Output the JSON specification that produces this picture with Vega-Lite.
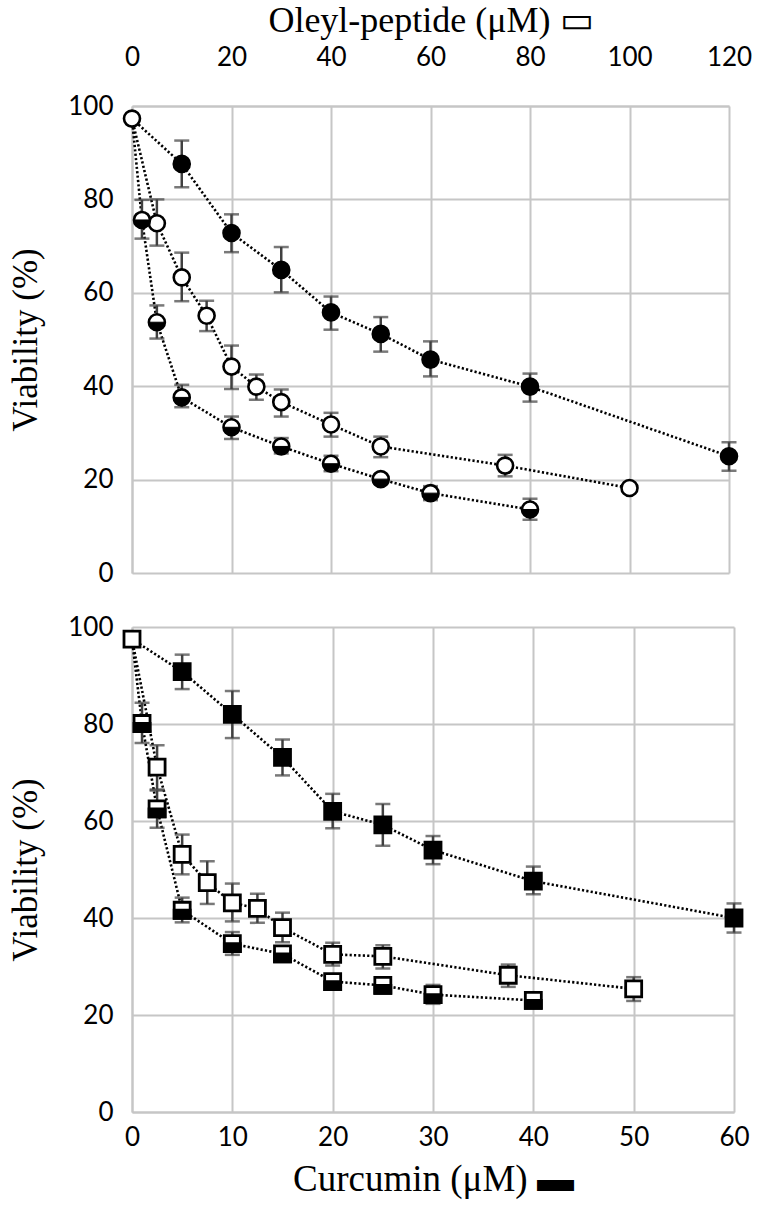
{
  "$schema": "https://vega.github.io/schema/vega-lite/v6.json",
  "padding": {"left": 8, "top": 2, "right": 10, "bottom": 5},
  "background": "white",
  "config": {
    "view": {"stroke": null},
    "axis": {
      "ticks": false,
      "grid": true,
      "labelFlush": false,
      "labelOverlap": false,
      "gridColor": "#c6c6c6",
      "gridWidth": 2,
      "domainColor": "#c6c6c6",
      "domainWidth": 2,
      "labelFont": "Lato",
      "labelFontSize": 26,
      "labelColor": "black",
      "titleFont": "Liberation Serif",
      "titleFontWeight": "normal",
      "titleColor": "black"
    }
  },
  "datasets": {
    "top": [
      {"series": "open", "conc": 0, "viab": 97.3, "lo": null, "hi": null},
      {"series": "open", "conc": 5, "viab": 74.9, "lo": 70.1, "hi": 80.0},
      {"series": "open", "conc": 10, "viab": 63.3, "lo": 58.2, "hi": 68.6},
      {"series": "open", "conc": 15, "viab": 55.1, "lo": 51.8, "hi": 58.3},
      {"series": "open", "conc": 20, "viab": 44.2, "lo": 39.4, "hi": 48.7},
      {"series": "open", "conc": 25, "viab": 39.9, "lo": 37.1, "hi": 42.5},
      {"series": "open", "conc": 30, "viab": 36.6, "lo": 33.5, "hi": 39.3},
      {"series": "open", "conc": 40, "viab": 31.8, "lo": 29.2, "hi": 34.3},
      {"series": "open", "conc": 50, "viab": 27.1, "lo": 24.8, "hi": 29.2},
      {"series": "open", "conc": 75, "viab": 23.0, "lo": 20.7, "hi": 25.3},
      {"series": "open", "conc": 100, "viab": 18.2, "lo": null, "hi": null},
      {"series": "filled", "conc": 0, "viab": 97.3, "lo": null, "hi": null},
      {"series": "filled", "conc": 10, "viab": 87.6, "lo": 82.6, "hi": 92.6},
      {"series": "filled", "conc": 20, "viab": 72.8, "lo": 68.7, "hi": 76.8},
      {"series": "filled", "conc": 30, "viab": 64.9, "lo": 60.1, "hi": 69.8},
      {"series": "filled", "conc": 40, "viab": 55.8, "lo": 52.1, "hi": 59.2},
      {"series": "filled", "conc": 50, "viab": 51.2, "lo": 47.4, "hi": 54.8},
      {"series": "filled", "conc": 60, "viab": 45.7, "lo": 42.1, "hi": 49.6},
      {"series": "filled", "conc": 80, "viab": 39.9, "lo": 36.7, "hi": 42.7},
      {"series": "filled", "conc": 120, "viab": 25.0, "lo": 21.9, "hi": 28.0},
      {"series": "half", "conc": 0, "viab": 97.3, "lo": null, "hi": null},
      {"series": "half", "conc": 2, "viab": 75.6, "lo": 71.6, "hi": 79.9},
      {"series": "half", "conc": 5, "viab": 53.7, "lo": 50.2, "hi": 57.3},
      {"series": "half", "conc": 10, "viab": 37.6, "lo": 35.5, "hi": 40.3},
      {"series": "half", "conc": 20, "viab": 31.2, "lo": 28.7, "hi": 33.5},
      {"series": "half", "conc": 30, "viab": 27.1, "lo": 25.6, "hi": 28.9},
      {"series": "half", "conc": 40, "viab": 23.4, "lo": 21.8, "hi": 25.1},
      {"series": "half", "conc": 50, "viab": 20.1, "lo": 19.1, "hi": 21.1},
      {"series": "half", "conc": 60, "viab": 17.1, "lo": 15.6, "hi": 18.6},
      {"series": "half", "conc": 80, "viab": 13.6, "lo": 11.4, "hi": 15.9}
    ],
    "bottom": [
      {"series": "filled", "conc": 0, "viab": 97.5, "lo": null, "hi": null},
      {"series": "filled", "conc": 5, "viab": 90.8, "lo": 87.2, "hi": 94.3},
      {"series": "filled", "conc": 10, "viab": 82.0, "lo": 77.1, "hi": 86.8},
      {"series": "filled", "conc": 15, "viab": 73.1, "lo": 69.4, "hi": 76.8},
      {"series": "filled", "conc": 20, "viab": 62.0, "lo": 58.5, "hi": 65.6},
      {"series": "filled", "conc": 25, "viab": 59.2, "lo": 54.9, "hi": 63.5},
      {"series": "filled", "conc": 30, "viab": 54.0, "lo": 51.1, "hi": 56.9},
      {"series": "filled", "conc": 40, "viab": 47.6, "lo": 44.9, "hi": 50.6},
      {"series": "filled", "conc": 60, "viab": 40.0, "lo": 37.0, "hi": 43.0},
      {"series": "open", "conc": 0, "viab": 97.5, "lo": null, "hi": null},
      {"series": "open", "conc": 2.5, "viab": 71.1, "lo": 66.5, "hi": 75.6},
      {"series": "open", "conc": 5, "viab": 53.1, "lo": 49.0, "hi": 57.2},
      {"series": "open", "conc": 7.5, "viab": 47.3, "lo": 42.9, "hi": 51.7},
      {"series": "open", "conc": 10, "viab": 43.1, "lo": 39.3, "hi": 47.1},
      {"series": "open", "conc": 12.5, "viab": 42.0, "lo": 39.0, "hi": 45.0},
      {"series": "open", "conc": 15, "viab": 38.0, "lo": 35.0, "hi": 41.1},
      {"series": "open", "conc": 20, "viab": 32.5, "lo": 30.2, "hi": 34.9},
      {"series": "open", "conc": 25, "viab": 32.1, "lo": 29.6, "hi": 34.4},
      {"series": "open", "conc": 37.5, "viab": 28.2, "lo": 25.8, "hi": 30.4},
      {"series": "open", "conc": 50, "viab": 25.4, "lo": 22.9, "hi": 27.8},
      {"series": "half", "conc": 0, "viab": 97.5, "lo": null, "hi": null},
      {"series": "half", "conc": 1, "viab": 80.1, "lo": 76.1, "hi": 84.4},
      {"series": "half", "conc": 2.5, "viab": 62.5, "lo": 58.6, "hi": 66.3},
      {"series": "half", "conc": 5, "viab": 41.6, "lo": 39.1, "hi": 44.2},
      {"series": "half", "conc": 10, "viab": 34.7, "lo": 32.4, "hi": 37.1},
      {"series": "half", "conc": 15, "viab": 32.6, "lo": 31.5, "hi": 33.8},
      {"series": "half", "conc": 20, "viab": 26.9, "lo": 26.0, "hi": 27.9},
      {"series": "half", "conc": 25, "viab": 26.1, "lo": 25.2, "hi": 27.1},
      {"series": "half", "conc": 30, "viab": 24.2, "lo": 22.3, "hi": 26.2},
      {"series": "half", "conc": 40, "viab": 23.0, "lo": 22.0, "hi": 24.0}
    ]
  },
  "vconcat": [
    {
      "width": 597,
      "height": 467,
      "data": {"name": "top"},
      "encoding": {
        "x": {"field": "conc", "type": "quantitative",
              "scale": {"domain": [0, 120], "nice": false},
              "axis": {"orient": "top", "values": [0, 20, 40, 60, 80, 100, 120],
                       "labelPadding": 36, "title": "Oleyl-peptide (μM) ▭",
                       "titleFontSize": 36, "titlePadding": 5}},
        "y": {"field": "viab", "type": "quantitative",
              "scale": {"domain": [0, 100], "nice": false},
              "axis": {"values": [0, 20, 40, 60, 80, 100], "labelPadding": 19,
                       "title": "Viability (%)", "titleFontSize": 35, "titlePadding": 24}}
      },
      "layer": [
        {"mark": {"type": "line", "color": "black", "strokeWidth": 2.6, "strokeDash": [2.2, 2.2]},
         "encoding": {"detail": {"field": "series"}, "order": {"field": "conc"}}},
        {"transform": [{"filter": "datum.lo != null"}],
         "mark": {"type": "rule", "color": "#404040", "strokeWidth": 2.5},
         "encoding": {"y": {"field": "lo", "type": "quantitative"}, "y2": {"field": "hi"}}},
        {"transform": [{"filter": "datum.lo != null"}],
         "mark": {"type": "tick", "orient": "horizontal", "color": "#404040", "size": 15, "thickness": 2.5},
         "encoding": {"y": {"field": "lo", "type": "quantitative"}}},
        {"transform": [{"filter": "datum.hi != null"}],
         "mark": {"type": "tick", "orient": "horizontal", "color": "#404040", "size": 15, "thickness": 2.5},
         "encoding": {"y": {"field": "hi", "type": "quantitative"}}},
        {"transform": [{"filter": "datum.conc > 0 || datum.series == 'open'"}],
         "mark": {"type": "point", "shape": "circle", "size": 256, "stroke": "black", "strokeWidth": 2.6, "opacity": 1, "filled": false},
         "encoding": {"fill": {"field": "series", "type": "nominal", "legend": null,
                               "scale": {"domain": ["open", "filled", "half"], "range": ["white", "black", "white"]}}}},
        {"transform": [{"filter": "datum.conc > 0 && datum.series == 'half'"}],
         "mark": {"type": "point", "shape": "M -1 0 A 1 1 0 0 0 1 0 Z", "size": 256, "fill": "black", "stroke": "black", "strokeWidth": 1, "opacity": 1, "filled": true}}
      ]
    },
    {
      "width": 602,
      "height": 485,
      "data": {"name": "bottom"},
      "encoding": {
        "x": {"field": "conc", "type": "quantitative",
              "scale": {"domain": [0, 60], "nice": false},
              "axis": {"orient": "bottom", "values": [0, 10, 20, 30, 40, 50, 60],
                       "labelPadding": 12, "title": "Curcumin (μM) ▬",
                       "titleFontSize": 37, "titlePadding": 11}},
        "y": {"field": "viab", "type": "quantitative",
              "scale": {"domain": [0, 100], "nice": false},
              "axis": {"values": [0, 20, 40, 60, 80, 100], "labelPadding": 19,
                       "title": "Viability (%)", "titleFontSize": 35, "titlePadding": 24}}
      },
      "layer": [
        {"mark": {"type": "line", "color": "black", "strokeWidth": 2.6, "strokeDash": [2.2, 2.2]},
         "encoding": {"detail": {"field": "series"}, "order": {"field": "conc"}}},
        {"transform": [{"filter": "datum.lo != null"}],
         "mark": {"type": "rule", "color": "#404040", "strokeWidth": 2.5},
         "encoding": {"y": {"field": "lo", "type": "quantitative"}, "y2": {"field": "hi"}}},
        {"transform": [{"filter": "datum.lo != null"}],
         "mark": {"type": "tick", "orient": "horizontal", "color": "#404040", "size": 15, "thickness": 2.5},
         "encoding": {"y": {"field": "lo", "type": "quantitative"}}},
        {"transform": [{"filter": "datum.hi != null"}],
         "mark": {"type": "tick", "orient": "horizontal", "color": "#404040", "size": 15, "thickness": 2.5},
         "encoding": {"y": {"field": "hi", "type": "quantitative"}}},
        {"transform": [{"filter": "datum.conc > 0 || datum.series == 'open'"}],
         "mark": {"type": "point", "shape": "square", "size": 256, "stroke": "black", "strokeWidth": 2.8, "opacity": 1, "filled": false},
         "encoding": {"fill": {"field": "series", "type": "nominal", "legend": null,
                               "scale": {"domain": ["open", "filled", "half"], "range": ["white", "black", "white"]}}}},
        {"transform": [{"filter": "datum.conc > 0 && datum.series == 'half'"}],
         "mark": {"type": "point", "shape": "M -1 0 L 1 0 L 1 1 L -1 1 Z", "size": 256, "fill": "black", "stroke": "black", "strokeWidth": 2.8, "opacity": 1, "filled": true}}
      ]
    }
  ],
  "spacing": 28
}
